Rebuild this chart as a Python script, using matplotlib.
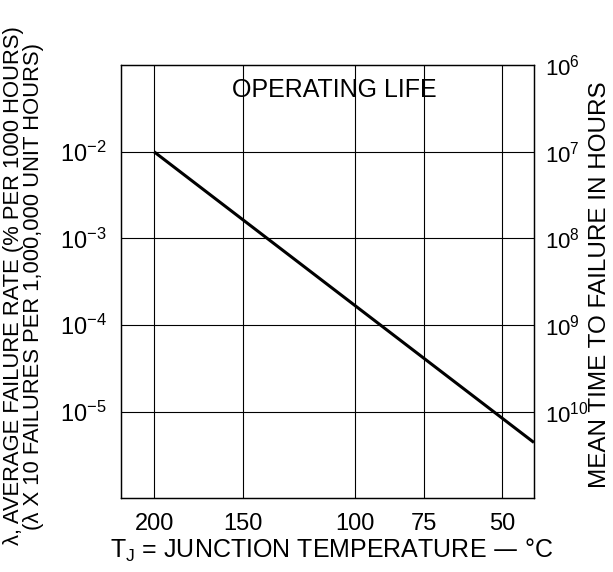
import matplotlib
matplotlib.use("Agg")
import matplotlib.pyplot as plt
import numpy as np

plt.rcParams["font.family"] = ["Liberation Sans", "DejaVu Sans"]
plt.rcParams["mathtext.default"] = "regular"

# data
temp_c = [200, 41]
failure_rate = [1e-2, 4.4e-6]

x_ticks = [200, 150, 100, 75, 50]
y_ticks = [1e-2, 1e-3, 1e-4, 1e-5]
y_tick_labels = ["$10^{-2}$", "$10^{-3}$", "$10^{-4}$", "$10^{-5}$"]
mttf_ticks = [1e-1, 1e-2, 1e-3, 1e-4, 1e-5]
mttf_labels = ["$10^{6}$", "$10^{7}$", "$10^{8}$", "$10^{9}$", "$10^{10}$"]


# Arrhenius scale: position ~ -1/(T + 273)
def fwd(t):
    return -1.0 / (np.asarray(t, dtype=float) + 273.15)


def inv(u):
    return -1.0 / np.asarray(u, dtype=float) - 273.15


fig = plt.figure(figsize=(6.13, 5.72), dpi=100)
ax = fig.add_axes([0.197, 0.129, 0.674, 0.757])
ax.set_xscale("function", functions=(fwd, inv))
ax.set_yscale("log")
ax.set_xlim(222, 41)
ax.set_ylim(1e-6, 1e-1)

ax.plot(temp_c, failure_rate, color="black", lw=2.2, solid_capstyle="butt")

ax.set_xticks(x_ticks)
ax.set_xticklabels([str(t) for t in x_ticks])
ax.set_yticks(y_ticks)
ax.set_yticklabels(y_tick_labels)
ax.minorticks_off()
ax.grid(True, color="black", lw=0.8)
ax.tick_params(axis="x", length=0, labelsize=17, pad=11)
ax.tick_params(axis="y", length=0, labelsize=17, pad=10)

for s in ax.spines.values():
    s.set_linewidth(0.9)

ax.text(0.516, 0.942, "OPERATING LIFE", transform=ax.transAxes,
        ha="center", va="center", fontsize=18)

ax.set_xlabel("T$_\\mathregular{J}$ = JUNCTION TEMPERATURE — °C", fontsize=18)
ax.xaxis.set_label_coords(0.51, -0.09)
ax.set_ylabel("λ, AVERAGE FAILURE RATE (% PER 1000 HOURS)\n"
              "(λ X 10 FAILURES PER 1,000,000 UNIT HOURS)",
              fontsize=15.8, linespacing=0.95)
ax.yaxis.set_label_coords(-0.185, 0.49)

ax2 = ax.twinx()
ax2.set_yscale("log")
ax2.set_ylim(ax.get_ylim())
ax2.set_yticks(mttf_ticks)
ax2.set_yticklabels(mttf_labels)
ax2.minorticks_off()
ax2.tick_params(length=0, labelsize=16, pad=8)
ax2.set_ylabel("MEAN TIME TO FAILURE IN HOURS", fontsize=17.5)
ax2.yaxis.set_label_coords(1.134, 0.494)
for s in ax2.spines.values():
    s.set_linewidth(0.9)

fig.savefig("out.png", dpi=100)
